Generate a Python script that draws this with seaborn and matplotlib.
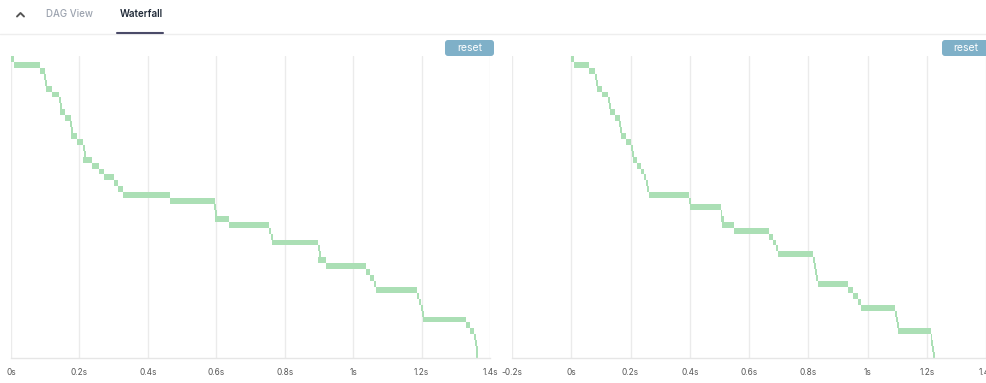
import matplotlib
matplotlib.use("Agg")
import matplotlib.pyplot as plt
from matplotlib.patches import FancyBboxPatch
from matplotlib.lines import Line2D
import numpy as np
import pandas as pd
import seaborn as sns

# ---------------- data ----------------
left_start = [0.000, 0.009, 0.085, 0.096, 0.099, 0.102, 0.120, 0.140, 0.143, 0.143,
              0.158, 0.172, 0.175, 0.175, 0.193, 0.210, 0.213, 0.210, 0.237, 0.257,
              0.272, 0.301, 0.313, 0.327, 0.465, 0.593, 0.596, 0.596, 0.637, 0.754,
              0.760, 0.763, 0.897, 0.900, 0.897, 0.921, 1.038, 1.049, 1.061, 1.067,
              1.187, 1.193, 1.198, 1.201, 1.204, 1.330, 1.342, 1.353, 1.356, 1.358,
              1.360]
left_end = [0.009, 0.085, 0.099, 0.102, 0.105, 0.120, 0.140, 0.146, 0.149, 0.158,
            0.175, 0.178, 0.181, 0.193, 0.210, 0.216, 0.219, 0.237, 0.257, 0.272,
            0.301, 0.313, 0.327, 0.465, 0.596, 0.599, 0.602, 0.637, 0.754, 0.760,
            0.766, 0.897, 0.903, 0.906, 0.921, 1.038, 1.049, 1.061, 1.067, 1.187,
            1.193, 1.198, 1.204, 1.207, 1.330, 1.342, 1.353, 1.359, 1.361, 1.364,
            1.366]

right_start = [0.000, 0.010, 0.061, 0.081, 0.084, 0.087, 0.104, 0.124, 0.128, 0.131,
               0.148, 0.161, 0.165, 0.168, 0.185, 0.202, 0.205, 0.208, 0.222, 0.235,
               0.245, 0.252, 0.256, 0.262, 0.397, 0.400, 0.504, 0.507, 0.510, 0.548,
               0.666, 0.682, 0.692, 0.699, 0.817, 0.820, 0.823, 0.827, 0.833, 0.934,
               0.951, 0.968, 0.978, 1.092, 1.095, 1.099, 1.103, 1.213, 1.216, 1.219,
               1.222]
right_end = [0.010, 0.061, 0.081, 0.087, 0.091, 0.104, 0.124, 0.131, 0.134, 0.148,
             0.165, 0.168, 0.171, 0.185, 0.202, 0.208, 0.212, 0.222, 0.235, 0.245,
             0.252, 0.258, 0.262, 0.397, 0.403, 0.504, 0.510, 0.514, 0.548, 0.666,
             0.682, 0.692, 0.699, 0.817, 0.823, 0.827, 0.830, 0.833, 0.934, 0.951,
             0.968, 0.978, 1.092, 1.099, 1.102, 1.106, 1.213, 1.219, 1.222, 1.225,
             1.229]

left_ticks = [0, 0.2, 0.4, 0.6, 0.8, 1.0, 1.2, 1.4]
left_tick_labels = ["0s", "0.2s", "0.4s", "0.6s", "0.8s", "1s", "1.2s", "1.4s"]
right_ticks = [-0.2, 0, 0.2, 0.4, 0.6, 0.8, 1.0, 1.2, 1.4]
right_tick_labels = ["-0.2s", "0s", "0.2s", "0.4s", "0.6s", "0.8s", "1s", "1.2s", "1.4s"]
tab_labels = ["DAG View", "Waterfall"]
button_label = "reset"

# ---------------- style ----------------
sns.set_theme(style="white")
plt.rcParams['font.family'] = ['Inter', 'DejaVu Sans']

W, H = 986, 383
fig = plt.figure(figsize=(W / 100, H / 100), dpi=100)
fig.patch.set_facecolor("white")


def fx(px):
    return px / W


def fy(py):
    return 1 - py / H


BAR_COLOR = "#abdfb5"
GRID = "#ebebeb"


def panel(x0, x1, starts, ends, xlim, ticks, labels):
    top, bottom = 56, 358
    ax = fig.add_axes([fx(x0), fy(bottom), fx(x1) - fx(x0), fy(top) - fy(bottom)])
    n = len(starts)
    df = pd.DataFrame({
        "task": [f"task{i:02d}" for i in range(n)],
        "start": starts,
        "end": ends,
    })
    df["dur"] = df["end"] - df["start"]
    sns.barplot(data=df, x="dur", y="task", orient="y",
                left=df["start"].to_numpy(), width=1.0,
                color=BAR_COLOR, saturation=1, errorbar=None,
                linewidth=0, ax=ax)
    ax.set_xlim(*xlim)
    ax.set_ylim(n - 0.5, -0.5)
    ax.set_xticks(ticks)
    ax.set_xticklabels(labels)
    ax.set_yticks([])
    ax.set_xlabel("")
    ax.set_ylabel("")
    ax.grid(axis="x", color=GRID, lw=1)
    ax.grid(axis="y", visible=False)
    ax.set_axisbelow(True)
    for s in ["top", "right", "left"]:
        ax.spines[s].set_visible(False)
    ax.spines["bottom"].set_color("#e6e6e6")
    ax.spines["bottom"].set_linewidth(1)
    ax.tick_params(axis="x", length=0, pad=7, labelsize=6, labelcolor="#555555")
    ax.patch.set_alpha(0)
    return ax


panel(11, 490, left_start, left_end, (0, 1.4), left_ticks, left_tick_labels)
panel(512, 986, right_start, right_end, (-0.2, 1.393), right_ticks, right_tick_labels)

# ---------------- header ----------------
fig.add_artist(Line2D([0, 1], [fy(33.5), fy(33.5)], color="#eeeeee", lw=1,
                      transform=fig.transFigure))
fig.add_artist(Line2D([fx(17), fx(20.5), fx(24)], [fy(16.5), fy(13), fy(16.5)],
                      color="#555555", lw=1.4, transform=fig.transFigure,
                      solid_capstyle="round", solid_joinstyle="round"))
fig.text(fx(46), fy(14), tab_labels[0], fontsize=7, color="#9ca3af",
         ha="left", va="center", fontweight="medium")
fig.text(fx(120), fy(14), tab_labels[1], fontsize=7, color="#1f2937",
         ha="left", va="center", fontweight="semibold")
fig.add_artist(Line2D([fx(117), fx(163)], [fy(32.5), fy(32.5)], color="#4a4a68",
                      lw=1.5, transform=fig.transFigure))

# ---------------- reset buttons ----------------
for bx0, bx1, tx in [(445, 494, 469.5), (942, 992, 966)]:
    patch = FancyBboxPatch((bx0 / 100, (H - 56) / 100), (bx1 - bx0) / 100, 16 / 100,
                           boxstyle="round,pad=0,rounding_size=0.03",
                           transform=fig.dpi_scale_trans, fc="#7fb0c8", ec="none",
                           zorder=5)
    fig.add_artist(patch)
    fig.text(fx(tx), fy(48), button_label, fontsize=7.5, color="white",
             ha="center", va="center", zorder=6)

fig.savefig("out.png", dpi=100, facecolor="white")
